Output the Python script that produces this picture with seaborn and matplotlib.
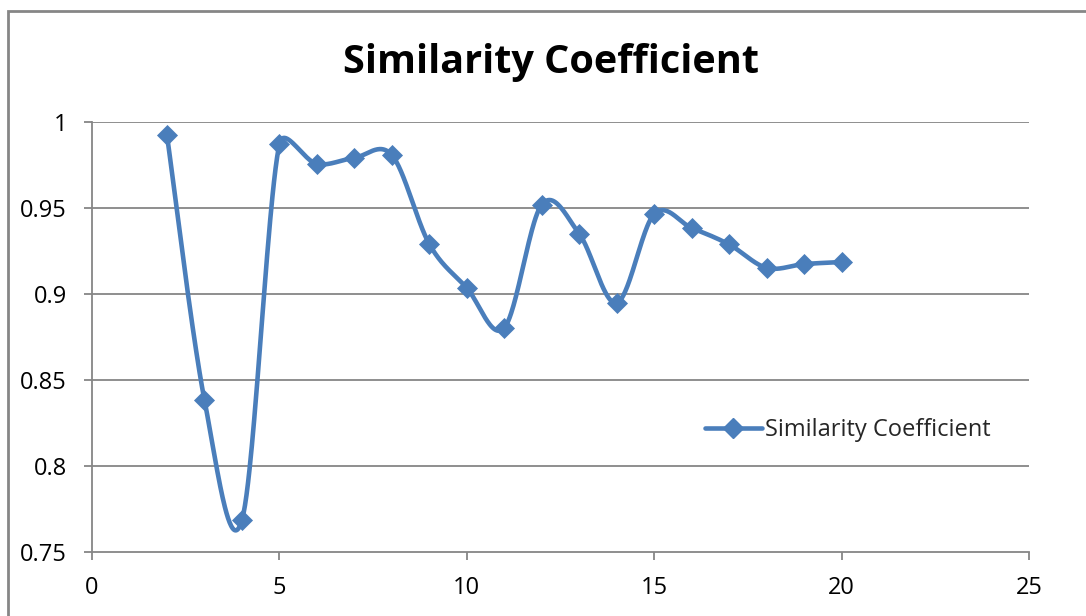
import numpy as np
import pandas as pd
import matplotlib
matplotlib.use("Agg")
import matplotlib.pyplot as plt
from matplotlib.lines import Line2D
from matplotlib.patches import Rectangle
import seaborn as sns

x_values = [2, 3, 4, 5, 6, 7, 8, 9, 10, 11, 12, 13, 14, 15, 16, 17, 18, 19, 20]
similarity = [0.9924, 0.8384, 0.7685, 0.9872, 0.9756, 0.9792, 0.9808, 0.9290,
              0.9035, 0.8803, 0.9520, 0.9350, 0.8948, 0.9465, 0.9384, 0.9288,
              0.9152, 0.9174, 0.9186]
series_name = "Similarity Coefficient"
title_text = "Similarity Coefficient"
x_ticks = [0, 5, 10, 15, 20, 25]
y_ticks = [0.75, 0.8, 0.85, 0.9, 0.95, 1.0]
y_tick_labels = ["0.75", "0.8", "0.85", "0.9", "0.95", "1"]

BLUE = "#4A7EBB"
GRAY = "#868686"


def _cap(vec, limit):
    n = np.linalg.norm(vec)
    return vec * (limit / n) if n > limit and n > 0 else vec


def smooth_curve(P, n=50):
    """Excel-like smoothed line in display space: Catmull-Rom Bezier with
    control-point offsets capped at half the segment length."""
    P = np.asarray(P, dtype=float)
    m = len(P)
    seglen = np.linalg.norm(np.diff(P, axis=0), axis=1)
    t = np.linspace(0, 1, n)[:, None]
    out = []
    for i in range(m - 1):
        p1, p2 = P[i], P[i + 1]
        L = seglen[i]
        p0 = P[i - 1] if i > 0 else P[i]
        p3 = P[i + 2] if i + 2 < m else P[i + 1]
        c1 = p1 + _cap((p2 - p0) / 6.0, 0.5 * L)
        c2 = p2 - _cap((p3 - p1) / 6.0, 0.5 * L)
        seg = ((1 - t) ** 3) * p1 + 3 * ((1 - t) ** 2) * t * c1 + 3 * (1 - t) * t ** 2 * c2 + t ** 3 * p2
        out.append(seg if i == 0 else seg[1:])
    return np.vstack(out)


sns.set_theme(style="white")
plt.rcParams["font.family"] = ["Open Sans", "DejaVu Sans"]

fig = plt.figure(figsize=(10.86, 6.16), dpi=100)
ax = fig.add_axes([92 / 1086, 1 - 552 / 616, (1029 - 92) / 1086, (552 - 122) / 616])

# chart area border (cropped at right and bottom like the reference)
fig.patches.append(Rectangle((8 / 1086, -0.1), 1.2, 1 - 10.5 / 616 + 0.1,
                             transform=fig.transFigure, fill=False,
                             edgecolor=GRAY, linewidth=2, zorder=0))

ax.set_xlim(0, 25)
ax.set_ylim(0.75, 1.0)

pts_disp = ax.transData.transform(np.column_stack([x_values, similarity]))
curve = ax.transData.inverted().transform(smooth_curve(pts_disp))
df_curve = pd.DataFrame({"x": curve[:, 0], "y": curve[:, 1]})
df_pts = pd.DataFrame({"x": x_values, "y": similarity})

sns.lineplot(data=df_curve, x="x", y="y", sort=False, estimator=None, ax=ax,
             color=BLUE, linewidth=3.3, legend=False, zorder=3)
sns.scatterplot(data=df_pts, x="x", y="y", ax=ax, marker="D", s=115,
                color=BLUE, edgecolor=BLUE, linewidth=0, legend=False, zorder=4)

ax.set_xlim(0, 25)
ax.set_ylim(0.75, 1.0)
ax.set_xticks(x_ticks)
ax.set_yticks(y_ticks)
ax.set_yticklabels(y_tick_labels)
ax.set_xlabel("")
ax.set_ylabel("")

for yv in y_ticks[1:]:
    ax.axhline(yv, color=GRAY, linewidth=1.3, zorder=1)

for side in ["top", "right"]:
    ax.spines[side].set_visible(False)
for side in ["left", "bottom"]:
    ax.spines[side].set_color(GRAY)
    ax.spines[side].set_linewidth(1.3)

ax.tick_params(axis="both", which="major", direction="out", length=6, width=1.3,
               color=GRAY, labelsize=17, labelcolor="black")
ax.tick_params(axis="x", bottom=True, pad=11)
ax.tick_params(axis="y", left=True, pad=12)
ax.grid(False)

fig.text(551 / 1086, 1 - 62 / 616, title_text, ha="center", va="center",
         fontsize=28.5, fontweight="bold", color="black")

handle = Line2D([0], [0], color=BLUE, linewidth=3.3, marker="D", markersize=10,
                markerfacecolor=BLUE, markeredgecolor=BLUE)
ax.legend([handle], [series_name], loc="center left",
          bbox_to_anchor=((705 - 92) / 937, (552 - 430) / 430), frameon=False,
          fontsize=17, handlelength=2.4, handletextpad=0.15, borderpad=0,
          borderaxespad=0)

fig.savefig("out.png", dpi=100)
